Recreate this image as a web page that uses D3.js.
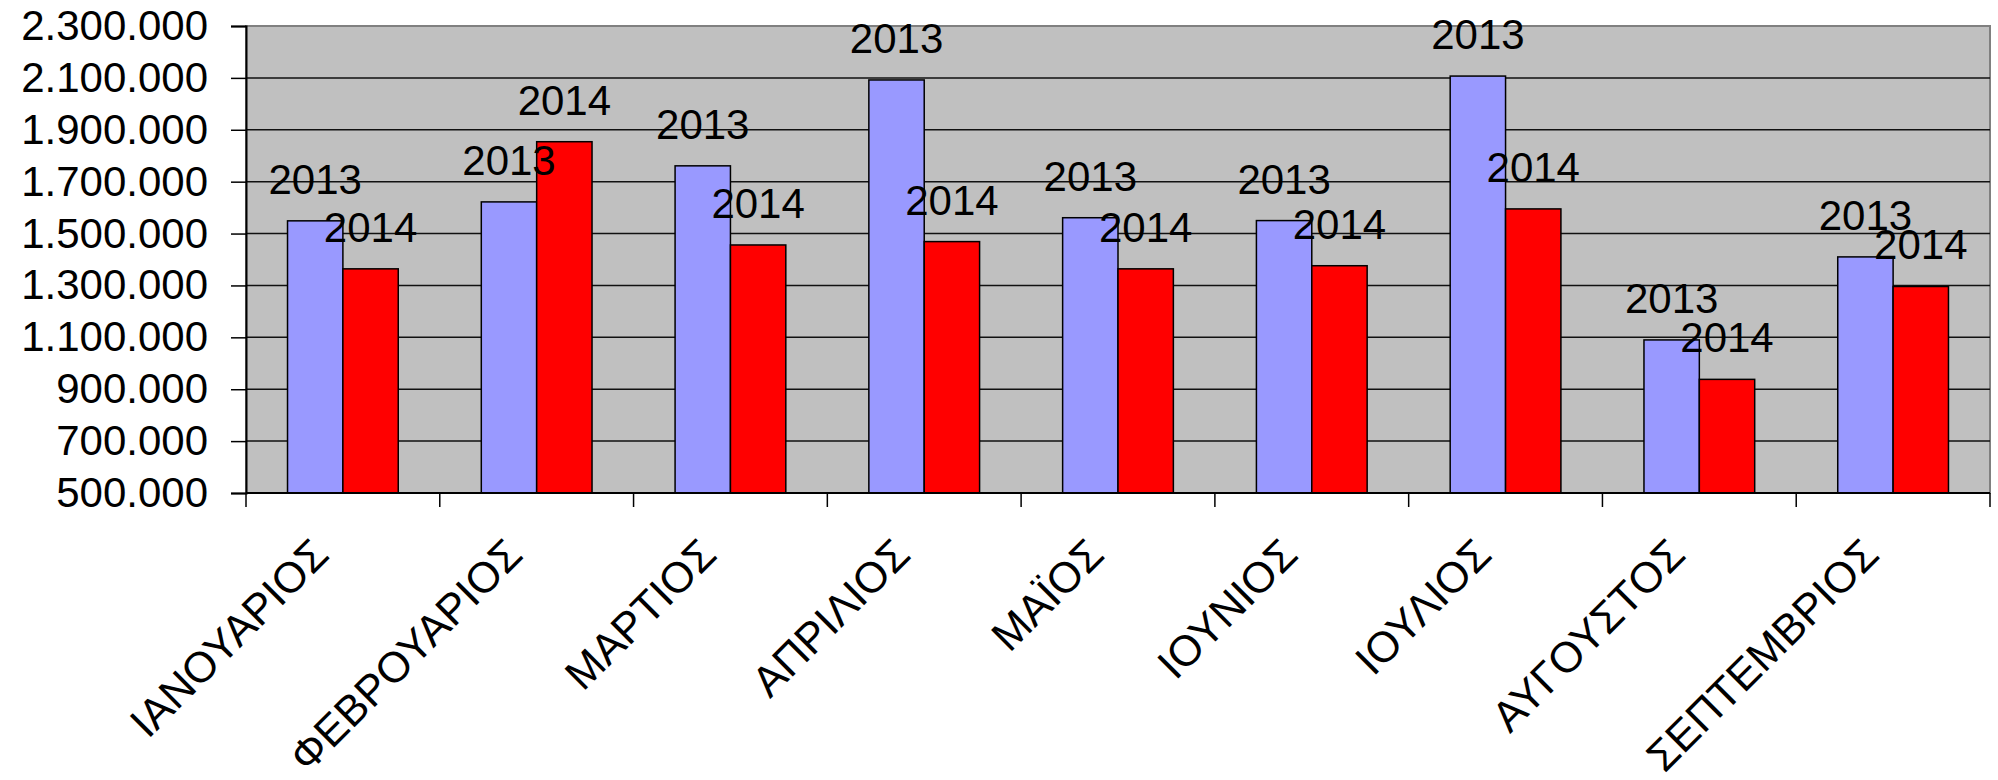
<!DOCTYPE html>
<html>
<head>
<meta charset="utf-8">
<script src="https://cdn.jsdelivr.net/npm/d3@7"></script>
<style>
body { margin: 0; background: #fff; }
text { font-family: "Liberation Sans", Arial, sans-serif; fill: #000; }
</style>
</head>
<body>
<script>
var width = 1998;
var height = 780;

// dati
var mesi = ["ΙΑΝΟΥΑΡΙΟΣ", "ΦΕΒΡΟΥΑΡΙΟΣ", "ΜΑΡΤΙΟΣ", "ΑΠΡΙΛΙΟΣ", "ΜΑΪΟΣ", "ΙΟΥΝΙΟΣ", "ΙΟΥΛΙΟΣ", "ΑΥΓΟΥΣΤΟΣ", "ΣΕΠΤΕΜΒΡΙΟΣ"];
var serie = ["2013", "2014"];
var valori2013 = [1549000, 1622000, 1761000, 2092000, 1561000, 1550000, 2107000, 1090000, 1410000];
var valori2014 = [1364000, 1854000, 1456000, 1469000, 1364000, 1376000, 1595000, 938000, 1296000];
var yTicks = [500000, 700000, 900000, 1100000, 1300000, 1500000, 1700000, 1900000, 2100000, 2300000];
var colori = ["#9999FF", "#FF0000"];

var margin = {top: 26, right: 8, bottom: 287, left: 246};
var w = width - margin.left - margin.right;
var h = height - margin.top - margin.bottom;

var svg = d3.select("body")
    .append("svg")
    .attr("width", width)
    .attr("height", height);

var g = svg.append("g")
    .attr("transform", "translate(" + margin.left + "," + margin.top + ")");

var x = d3.scaleBand()
    .domain(mesi)
    .range([0, w])
    .paddingInner(1.5 / 3.5)
    .paddingOuter(0.75 / 3.5);

var xs = d3.scaleBand()
    .domain(serie)
    .range([0, x.bandwidth()]);

var y = d3.scaleLinear()
    .domain([500000, 2300000])
    .range([h, 0]);

var locale = d3.formatLocale({decimal: ",", thousands: ".", grouping: [3], currency: ["", ""]});
var fmt = locale.format(",d");

// sfondo area grafico
g.append("rect")
    .attr("x", 0)
    .attr("y", 0)
    .attr("width", w)
    .attr("height", h)
    .attr("fill", "#C0C0C0")
    .attr("stroke", "#808080")
    .attr("stroke-width", 2);

// griglia
g.selectAll(".grid")
    .data(yTicks.filter(function(d){ return d > 500000 && d < 2300000; }))
    .enter()
    .append("line")
    .attr("x1", 0)
    .attr("x2", w)
    .attr("y1", function(d){ return y(d); })
    .attr("y2", function(d){ return y(d); })
    .attr("stroke", "#111")
    .attr("stroke-width", 1.5);

var righe = mesi.map(function(m, i){
    return {mese: m, valori: [valori2013[i], valori2014[i]]};
});

var gruppi = g.selectAll(".mese")
    .data(righe)
    .enter()
    .append("g")
    .attr("transform", function(d){ return "translate(" + x(d.mese) + ",0)"; });

gruppi.selectAll("rect")
    .data(function(d){ return d.valori.map(function(v, j){ return {serie: serie[j], v: v, j: j}; }); })
    .enter()
    .append("rect")
    .attr("x", function(d){ return xs(d.serie); })
    .attr("y", function(d){ return y(d.v); })
    .attr("width", xs.bandwidth())
    .attr("height", function(d){ return h - y(d.v); })
    .attr("fill", function(d){ return colori[d.j]; })
    .attr("stroke", "#000")
    .attr("stroke-width", 1.5);

// asse y
var assey = g.append("g")
    .call(d3.axisLeft(y).tickValues(yTicks).tickFormat(fmt).tickSize(15).tickPadding(23));
assey.select(".domain").attr("stroke", "#000").attr("stroke-width", 2);
assey.selectAll(".tick line").attr("stroke", "#000").attr("stroke-width", 1.5);
assey.selectAll(".tick text")
    .style("font-family", "'Liberation Sans', Arial, sans-serif")
    .style("font-size", "42px")
    .attr("fill", "#000");

// asse x
var assex = g.append("g")
    .attr("transform", "translate(0," + h + ")");
assex.append("line")
    .attr("x1", 0)
    .attr("x2", w)
    .attr("stroke", "#000")
    .attr("stroke-width", 2);
var bordi = mesi.map(function(m){ return x(m) - x.step() * x.paddingOuter(); });
bordi.push(w);
assex.selectAll(".tk")
    .data(bordi)
    .enter()
    .append("line")
    .attr("x1", function(d){ return d; })
    .attr("x2", function(d){ return d; })
    .attr("y1", 0)
    .attr("y2", 14)
    .attr("stroke", "#000")
    .attr("stroke-width", 1.5);
assex.selectAll(".lab")
    .data(mesi)
    .enter()
    .append("text")
    .attr("transform", function(d){
        return "translate(" + (x(d) + x.bandwidth() / 2 - 12) + ",64) rotate(-45)";
    })
    .attr("text-anchor", "end")
    .style("font-size", "43px")
    .text(function(d){ return d; });

// etichette dati
gruppi.selectAll(".etichetta")
    .data(function(d){ return d.valori.map(function(v, j){ return {serie: serie[j], v: v}; }); })
    .enter()
    .append("text")
    .attr("x", function(d){ return xs(d.serie) + xs.bandwidth() / 2; })
    .attr("y", function(d){ return y(d.v) - 27; })
    .attr("text-anchor", "middle")
    .style("font-size", "42px")
    .text(function(d){ return d.serie; });
</script>
</body>
</html>
